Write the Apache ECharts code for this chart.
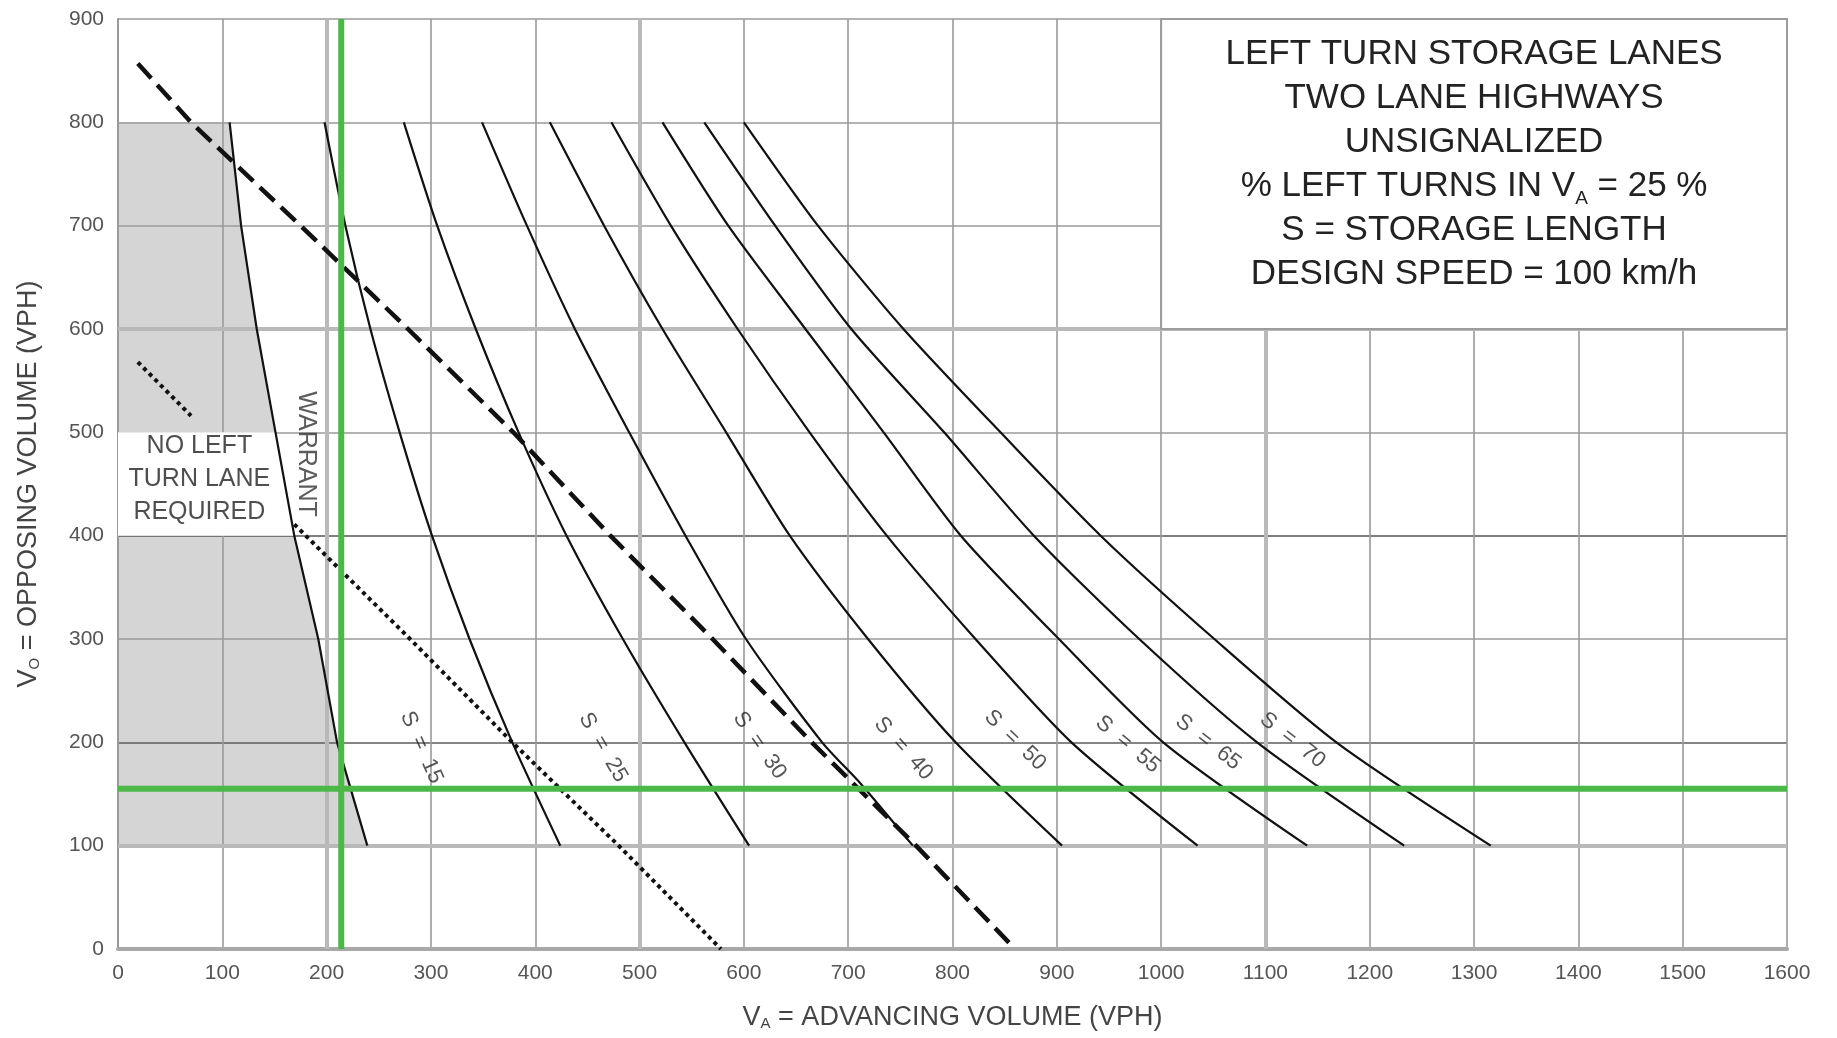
<!DOCTYPE html>
<html>
<head>
<meta charset="utf-8">
<script src="https://cdn.jsdelivr.net/npm/echarts@6/dist/echarts.min.js"></script>
<style>
html,body{margin:0;padding:0;background:#fff;}
#chart{width:1837px;height:1038px;}
</style>
</head>
<body>
<div id="chart"></div>
<script>
// ---------------- data ----------------
const xTicks = [0,100,200,300,400,500,600,700,800,900,1000,1100,1200,1300,1400,1500,1600];
const yTicks = [0,100,200,300,400,500,600,700,800,900];

// [advancing volume VA, opposing volume VO]
const warrantLine = [[107,800],[118,700],[133,600],[151,500],[169,400],[192,300],[210,200],[239,100]];
const dashedLine  = [[19,857],[70,800],[175,700],[278,600],[379,500],[472,400],[570,300],[665,200],[765,100],[860,0]];
const dottedLineA = [[19,568],[70,516]];
const dottedLineB = [[169,411],[280,300],[378,200],[480,100],[578,0]];

const curveS15 = [[198,800],[218,700],[242,600],[270,500],[301,400],[337,300],[378,200],[424,100]];
const curveS25 = [[274,800],[306,700],[343,600],[384,500],[430,400],[484,300],[543,200],[605,100]];
const curveS30 = [[349,800],[392,700],[438,600],[490,500],[544,400],[602,300],[675,200],[712,160],[762,100]];
const curveS40 = [[414,800],[466,700],[522,600],[583,500],[644,400],[719,300],[803,200],[905,100]];
const curveS50 = [[473,800],[530,700],[594,600],[663,500],[737,400],[822,300],[914,200],[1035,100]];
const curveS55 = [[522,800],[585,700],[659,600],[734,500],[808,400],[902,300],[1002,200],[1140,100]];
const curveS65 = [[562,800],[630,700],[703,600],[792,500],[878,400],[979,300],[1092,200],[1233,100]];
const curveS70 = [[600,800],[671,700],[753,600],[846,500],[942,400],[1051,300],[1168,200],[1316,100]];

const storageCurves   = [curveS15, curveS25, curveS30, curveS40, curveS50, curveS55, curveS65, curveS70];
const storageNames    = ['S  =  15','S  =  25','S  =  30','S  =  40','S  =  50','S  =  55','S  =  65','S  =  70'];
const storageLabelAt  = [[291,195],[465,195],[615,197],[753,194],[860,202],[968,198],[1045,200],[1126,202]];
const storageLabelRot = [-66,-60,-55,-48,-44,-40,-38,-38];

const designPoint = [214, 155];           // green cross-hair (VA, VO)
const shadeRange  = [100, 800];           // shaded "no left turn" band (VO)
const noteRange   = [400, 500];           // white note band inside it (VO)
const boxRange    = [[1000, 600], [1600, 900]];

const boxLines = [
  'LEFT TURN STORAGE LANES',
  'TWO LANE HIGHWAYS',
  'UNSIGNALIZED',
  '% LEFT TURNS IN V{s|A} = 25 %',
  'S = STORAGE LENGTH',
  'DESIGN SPEED = 100 km/h'
];
const noteText = 'NO LEFT\nTURN LANE\nREQUIRED';
const noteAt = [78, 455];
const warrantText = 'WARRANT';
const warrantAt = [180, 479];

// ---------------- derived shapes ----------------
const upperShade = [[0, shadeRange[1]]].concat(warrantLine.filter(p => p[1] >= noteRange[1]), [[0, noteRange[1]]]);
const lowerShade = [[0, noteRange[0]]].concat(warrantLine.filter(p => p[1] <= noteRange[0]), [[0, shadeRange[0]]]);
const noteBox = [[0, noteRange[1]]].concat(warrantLine.filter(p => p[1] <= noteRange[1] && p[1] >= noteRange[0]), [[0, noteRange[0]]]);

const FONT = '"Liberation Sans", Arial, Helvetica, sans-serif';

function polygonSeries(polys, fill, z) {
  return {
    type: 'custom', coordinateSystem: 'cartesian2d', silent: true, z: z,
    data: polys.map(p => p[0]),
    renderItem: function (params, api) {
      const poly = polys[params.dataIndex];
      return { type: 'polygon', shape: { points: poly.map(p => api.coord(p)) }, style: { fill: fill } };
    }
  };
}
function curve(data, style, z, smooth) {
  return {
    type: 'line', data: data, showSymbol: false, symbol: 'none', silent: true, z: z,
    smooth: smooth, lineStyle: style
  };
}

const series = [];
series.push(polygonSeries([upperShade, lowerShade], '#d5d5d5', 1));
// heavier grid lines
series.push({
  type: 'line', data: [], silent: true, z: 3,
  markLine: {
    silent: true, symbol: 'none', z: 3, label: { show: false },
    lineStyle: { color: '#b9b9b9', width: 4, type: 'solid' },
    data: [{ yAxis: 100 }, { yAxis: 600 }, { xAxis: 200 }, { xAxis: 500 }, { xAxis: 1100 }]
  }
});
series.push(polygonSeries([noteBox], '#ffffff', 4));
// title box
series.push({
  type: 'line', data: [boxRange[0]], showSymbol: false, symbol: 'none', silent: true, z: 4,
  markArea: {
    silent: true, z: 4.5,
    itemStyle: { color: '#ffffff', borderColor: '#9c9c9c', borderWidth: 2, opacity: 1 },
    label: {
      show: true, position: 'inside', offset: [0, -10],
      formatter: boxLines.join('\n'),
      color: '#222', fontSize: 35, lineHeight: 44, fontFamily: FONT, align: 'center',
      rich: { s: { fontSize: 19, lineHeight: 20, verticalAlign: 'bottom', color: '#222', fontFamily: FONT } }
    },
    data: [[{ coord: [boxRange[0][0], boxRange[1][1]] }, { coord: [boxRange[1][0], boxRange[0][1]] }]]
  }
});
// curves
series.push(curve(warrantLine, { color: '#111', width: 2.2 }, 5, false));
storageCurves.forEach(c => series.push(curve(c, { color: '#111', width: 2.2 }, 5, 0.25)));
series.push(curve(dashedLine, { color: '#111', width: 4.5, type: [20, 9] }, 5, false));
series.push(curve(dottedLineA, { color: '#111', width: 4, type: [4, 4] }, 5, false));
series.push(curve(dottedLineB, { color: '#111', width: 4, type: [4, 4] }, 5, false));
// green design lines
series.push(curve([[designPoint[0], yTicks[0]], [designPoint[0], yTicks[yTicks.length - 1]]], { color: '#4cb848', width: 6 }, 6, false));
series.push(curve([[xTicks[0], designPoint[1]], [xTicks[xTicks.length - 1], designPoint[1]]], { color: '#4cb848', width: 6 }, 6, false));
// labels
series.push({
  type: 'scatter', symbolSize: 0, silent: true, z: 7,
  data: storageNames.map((n, i) => ({
    value: storageLabelAt[i], name: n,
    label: { show: true, position: 'inside', formatter: n, rotate: storageLabelRot[i],
             fontSize: 22, color: '#2a2a2a', fontFamily: FONT }
  })).concat([
    { value: noteAt, name: 'note',
      label: { show: true, position: 'inside', formatter: noteText, fontSize: 25, lineHeight: 33,
               color: '#222', fontFamily: FONT, align: 'center' } },
    { value: warrantAt, name: 'warrant',
      label: { show: true, position: 'inside', formatter: warrantText, rotate: -90, fontSize: 25,
               color: '#333', fontFamily: FONT } }
  ])
});

const axisCommon = {
  type: 'value', z: 2,
  axisTick: { show: false },
  axisLabel: { color: '#555', fontSize: 21, fontFamily: FONT, margin: 14,
               formatter: function (v) { return String(v); } },
  nameLocation: 'middle',
  nameTextStyle: { color: '#444', fontSize: 27, fontFamily: FONT,
    rich: { s: { fontSize: 15, lineHeight: 16, verticalAlign: 'bottom', color: '#444', fontFamily: FONT } } }
};

const option = {
  animation: false,
  backgroundColor: '#ffffff',
  grid: { left: 118, right: 50, top: 19, bottom: 89, containLabel: false, outerBoundsMode: 'none' },
  xAxis: Object.assign({}, axisCommon, {
    min: xTicks[0], max: xTicks[xTicks.length - 1], interval: xTicks[1] - xTicks[0],
    name: 'V{s|A} = ADVANCING VOLUME (VPH)', nameGap: 55,
    axisLine: { show: true, lineStyle: { color: '#a8a8a8', width: 4 } },
    splitLine: { show: true, lineStyle: { color: '#9a9a9a', width: 1.6 } }
  }),
  yAxis: Object.assign({}, axisCommon, {
    min: yTicks[0], max: yTicks[yTicks.length - 1], interval: yTicks[1] - yTicks[0],
    name: 'V{s|O} = OPPOSING VOLUME (VPH)', nameGap: 76,
    axisLine: { show: true, lineStyle: { color: '#9a9a9a', width: 2 } },
    splitLine: { show: true, lineStyle: {
      color: ['#9a9a9a','#b0b0b0','#5c5c5c','#9a9a9a','#555555','#9a9a9a','#b0b0b0','#9a9a9a','#9a9a9a','#9a9a9a'],
      width: 1.6 } }
  }),
  series: series
};

const chart = echarts.init(document.getElementById('chart'), null, { renderer: 'canvas' });
chart.setOption(option);
</script>
</body>
</html>
